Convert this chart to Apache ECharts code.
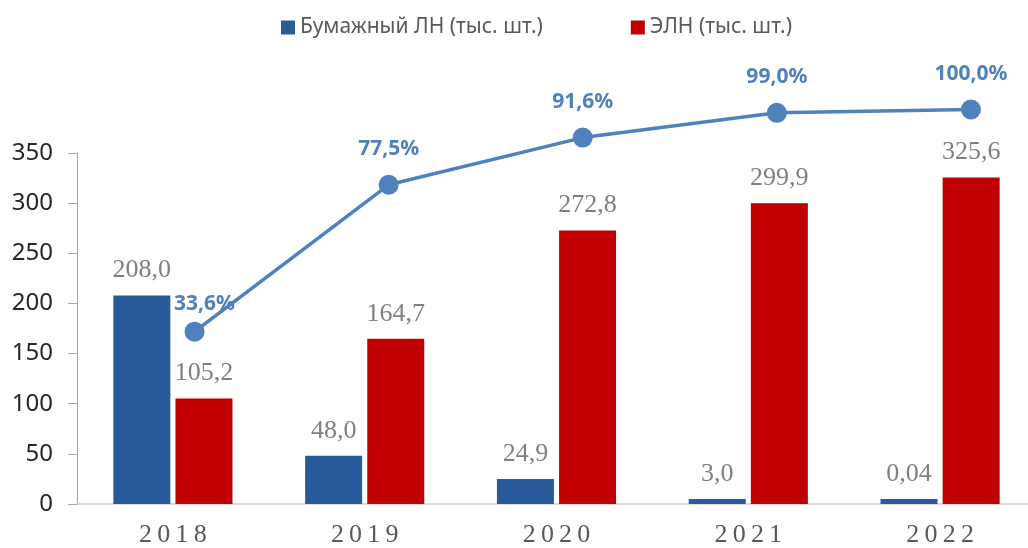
<!DOCTYPE html>
<html>

<head>
    <meta charset="utf-8">
    <script src="https://cdn.jsdelivr.net/npm/echarts@6/dist/echarts.min.js"></script>
</head>

<body>
    <div id="chart"></div>
</body>
<style>
    body {
        margin: 0;
        background: #fff;
    }

    #chart {
        width: 1028px;
        height: 548px;
    }
</style>
<script>
    const years = ['2018', '2019', '2020', '2021', '2022']
    const paperLN = [208.0, 48.0, 24.9, 3.0, 0.04]
    const eLN = [105.2, 164.7, 272.8, 299.9, 325.6]
    const eShare = [33.6, 77.5, 91.6, 99.0, 100.0]
    const seriesNames = ['Бумажный ЛН (тыс. шт.)', 'ЭЛН (тыс. шт.)']

    const chart = echarts.init(document.getElementById('chart'))

    // числа с запятой, как в оригинале
    function fmt(v) {
        let s = v < 0.1 ? v.toFixed(2) : v.toFixed(1)
        return s.replace('.', ',')
    }

    const barLabel = {
        show: true,
        position: 'top',
        distance: 12,
        fontFamily: 'Liberation Serif',
        fontSize: 26,
        color: '#808080',
        formatter: p => fmt(p.value)
    }

    const option = {
        animation: false,
        legend: {
            data: seriesNames,
            left: 276,
            top: 12,
            itemWidth: 14,
            itemHeight: 14,
            itemGap: 88,
            icon: 'rect',
            textStyle: {
                fontFamily: 'Noto Sans',
                fontSize: 21,
                color: '#595959'
            }
        },
        grid: [
            { left: 77, top: 153, width: 959, bottom: 44, outerBoundsMode: 'none' },
            // отдельная сетка для линии (вторичная ось в оригинале смещена)
            { left: 97.5, top: 109.5, width: 970.5, bottom: 44, outerBoundsMode: 'none' }
        ],
        xAxis: [
            {
                type: 'category',
                data: years,
                gridIndex: 0,
                axisLine: { lineStyle: { color: '#d9d9d9', width: 2 } },
                axisTick: { show: false },
                axisLabel: {
                    margin: 18,
                    fontFamily: 'Liberation Serif',
                    fontSize: 26,
                    color: '#595959',
                    formatter: v => v.split('').join('\u2009')
                }
            },
            {
                type: 'category',
                data: years,
                gridIndex: 1,
                show: false
            }
        ],
        yAxis: [
            {
                type: 'value',
                gridIndex: 0,
                min: 0,
                max: 350,
                interval: 50,
                splitLine: { show: false },
                axisLine: { show: true, lineStyle: { color: '#a6a6a6' } },
                axisTick: { show: true, length: 9, lineStyle: { color: '#a6a6a6' } },
                axisLabel: {
                    margin: 24,
                    fontFamily: 'Noto Sans',
                    fontSize: 24,
                    color: '#262626'
                }
            },
            {
                type: 'value',
                gridIndex: 1,
                min: -17.9,
                max: 100,
                show: false
            }
        ],
        series: [
            {
                name: seriesNames[0],
                type: 'bar',
                data: paperLN,
                barWidth: 57,
                barGap: '9%',
                barMinHeight: 5,
                itemStyle: { color: '#285a9c' },
                label: barLabel
            },
            {
                name: seriesNames[1],
                type: 'bar',
                data: eLN,
                barWidth: 57,
                itemStyle: { color: '#c00000' },
                label: barLabel
            },
            {
                name: 'Доля ЭЛН',
                type: 'line',
                xAxisIndex: 1,
                yAxisIndex: 1,
                data: eShare.map((v, i) => i === 0
                    ? { value: v, label: { offset: [10, 8] } }
                    : v),
                clip: false,
                z: 5,
                symbol: 'circle',
                symbolSize: 20,
                lineStyle: { color: '#4f81bd', width: 3.5 },
                itemStyle: { color: '#4f81bd' },
                label: {
                    show: true,
                    position: 'top',
                    distance: 15,
                    fontFamily: 'Noto Sans',
                    fontWeight: 'bold',
                    fontSize: 21,
                    color: '#4f81bd',
                    formatter: p => p.value.toFixed(1).replace('.', ',') + '%'
                }
            }
        ]
    }

    chart.setOption(option)
</script>

</html>
